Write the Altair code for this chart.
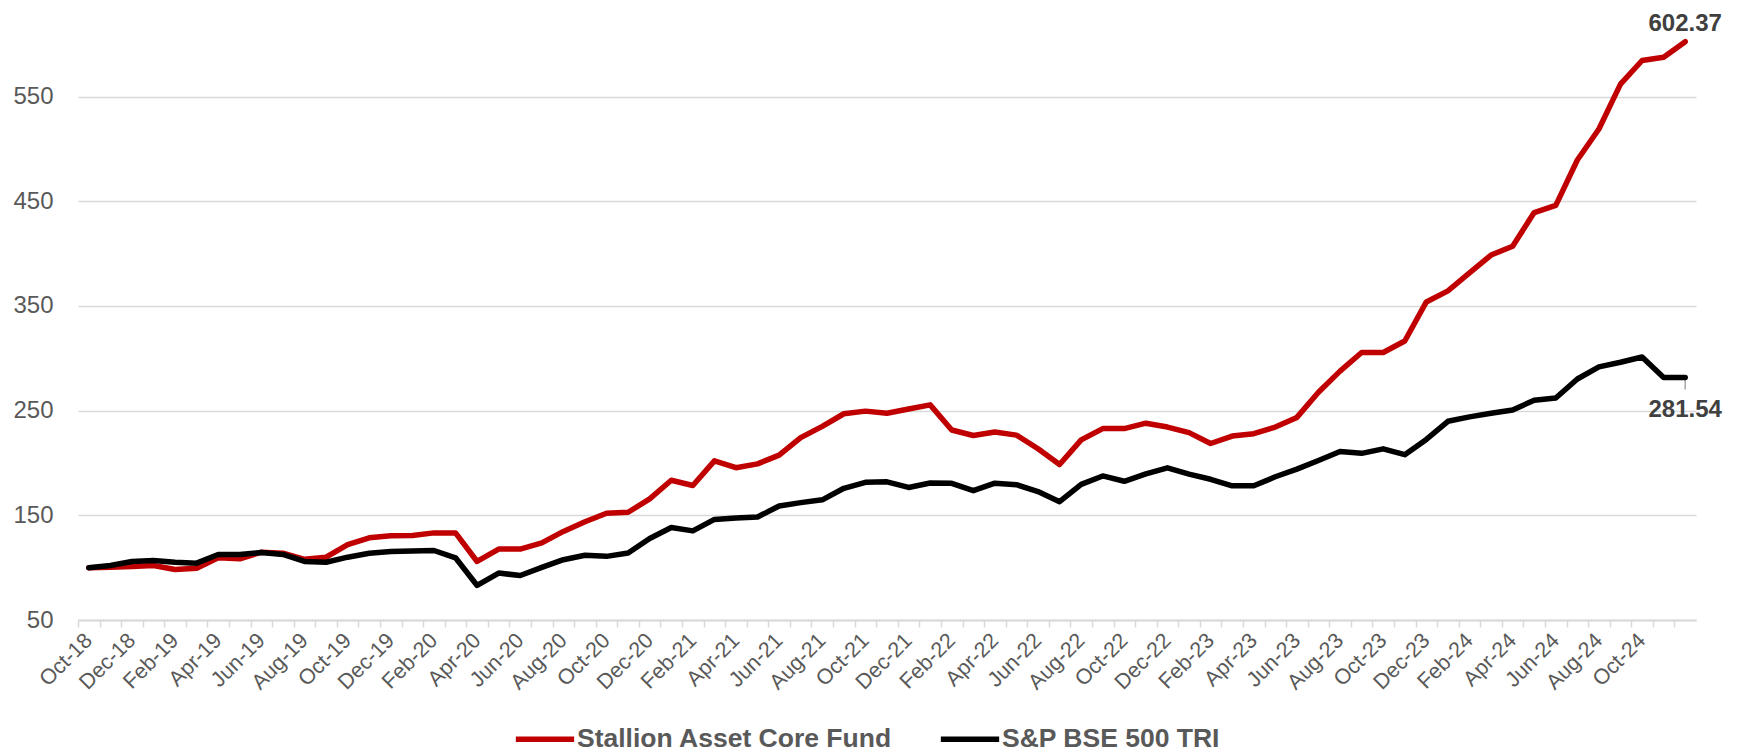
import altair as alt
import pandas as pd

months = [
    "Oct-18", "Nov-18", "Dec-18",
    "Jan-19", "Feb-19", "Mar-19", "Apr-19", "May-19", "Jun-19", "Jul-19", "Aug-19", "Sep-19", "Oct-19", "Nov-19", "Dec-19",
    "Jan-20", "Feb-20", "Mar-20", "Apr-20", "May-20", "Jun-20", "Jul-20", "Aug-20", "Sep-20", "Oct-20", "Nov-20", "Dec-20",
    "Jan-21", "Feb-21", "Mar-21", "Apr-21", "May-21", "Jun-21", "Jul-21", "Aug-21", "Sep-21", "Oct-21", "Nov-21", "Dec-21",
    "Jan-22", "Feb-22", "Mar-22", "Apr-22", "May-22", "Jun-22", "Jul-22", "Aug-22", "Sep-22", "Oct-22", "Nov-22", "Dec-22",
    "Jan-23", "Feb-23", "Mar-23", "Apr-23", "May-23", "Jun-23", "Jul-23", "Aug-23", "Sep-23", "Oct-23", "Nov-23", "Dec-23",
    "Jan-24", "Feb-24", "Mar-24", "Apr-24", "May-24", "Jun-24", "Jul-24", "Aug-24", "Sep-24", "Oct-24", "Nov-24", "Dec-24",
]

fund = [
    100, 100.5, 101.1, 102, 98.3, 99.5, 109.4, 108.4, 114.8, 113.8, 108, 110, 122.1, 128.5, 130.4, 130.7,
    133.2, 133.2, 105.9, 117.7, 117.7, 123.6, 134.6, 143.8, 152, 152.9, 165.7, 183.5, 178.5, 202, 195.5,
    199.1, 207.5, 224.2, 235, 247, 249.5, 247.5, 251.5, 255.5, 231.5, 226.2, 229.6, 226.6, 213.6, 198.5,
    222, 232.8, 232.8, 238, 234.3, 229, 218.6, 225.7, 228, 234.3, 243.5, 267.5, 287.7, 305.5, 305.5,
    316.5, 353.8, 364.4, 381.5, 398.6, 407, 439.2, 446, 489.4, 519, 561.8, 584.4, 587.6, 602.37,
]

index = [
    100, 102.1, 105.9, 106.8, 105.2, 104.3, 112.6, 112.6, 114.5, 112.6, 105.9, 105.2, 110, 113.8, 115.4,
    116, 116.4, 109.4, 83, 94.8, 92.5, 100.3, 107.6, 111.8, 110.8, 114, 127.8, 138.3, 135.1, 146.1,
    147.4, 148.4, 158.9, 162.1, 164.8, 175.8, 181.5, 182, 176.6, 180.8, 180.5, 173.5, 180.7, 179.2,
    172.7, 163, 179.6, 187.6, 182.5, 189.5, 195.4, 189.4, 184.4, 178.2, 178.2, 186.8, 194.1, 202.3,
    210.9, 209.2, 213.5, 207.9, 222.5, 239.8, 244, 247.5, 250.5, 260, 262, 280.2, 291.8, 296.2, 301.2,
    281.54, 281.54,
]

series_names = ["Stallion Asset Core Fund", "S&P BSE 500 TRI"]
series_colors = ["#C00000", "#000000"]
end_labels = ["602.37", "281.54"]
y_ticks = [50, 150, 250, 350, 450, 550]
shown_months = ["Oct", "Dec", "Feb", "Apr", "Jun", "Aug"]

rows = []
for name, vals, lab in zip(series_names, [fund, index], end_labels):
    for i, (m, v) in enumerate(zip(months, vals)):
        rows.append({"month": m, "value": v, "series": name,
                     "label": lab if i == len(months) - 1 else ""})
df = pd.DataFrame(rows)

FONT = "Liberation Sans"
PLOT_W = 1618
HALF_BAND = PLOT_W / len(months) / 2

label_expr = (
    "indexof(" + str(shown_months) + ", slice(datum.value, 0, 3)) >= 0 && datum.value != '"
    + months[-1] + "' ? datum.value : ''"
)

x_enc = alt.X(
    "month:N",
    sort=months,
    scale=alt.Scale(type="band", paddingInner=0, paddingOuter=0),
    axis=alt.Axis(
        title=None,
        orient="bottom",
        labelAngle=-45,
        labelAlign="right",
        labelBaseline="middle",
        labelFontSize=21.5,
        labelColor="#595959",
        labelFont=FONT,
        labelPadding=10,
        labelOverlap=False,
        labelExpr=label_expr,
        tickOffset=-HALF_BAND,
        labelOffset=HALF_BAND,
        domainColor="#d9d9d9",
        domainWidth=2,
        tickColor="#d9d9d9",
        tickWidth=1.5,
        tickSize=7,
        grid=False,
    ),
)

y_enc = alt.Y(
    "value:Q",
    scale=alt.Scale(domain=[50, 633.6], nice=False, zero=False),
    axis=alt.Axis(
        title=None,
        values=y_ticks,
        grid=True,
        gridColor="#d9d9d9",
        gridWidth=1.5,
        domain=False,
        ticks=False,
        labelFontSize=24,
        labelColor="#595959",
        labelFont=FONT,
        labelPadding=25,
    ),
)

base = alt.Chart(df).encode(x=x_enc, y=y_enc)

lines = base.mark_line(strokeWidth=5.5, strokeJoin="round", strokeCap="round").encode(
    color=alt.Color(
        "series:N",
        sort=series_names,
        scale=alt.Scale(domain=series_names, range=series_colors),
        legend=alt.Legend(
            title=None,
            orient="none",
            direction="horizontal",
            legendX=435,
            legendY=698,
            symbolType="stroke",
            symbolSize=3400,
            symbolStrokeWidth=5.5,
            labelFontSize=26.5,
            labelFontWeight="bold",
            labelColor="#595959",
            labelFont=FONT,
            labelOffset=0,
            columnPadding=36,
            padding=0,
            labelLimit=500,
        ),
    ),
)

leader = base.mark_rule(color="#a6a6a6", strokeWidth=1.5, y2Offset=12).encode(
    y2=alt.Y2("value:Q")
).transform_filter(alt.datum.label == end_labels[1])

top_label = base.mark_text(
    fontSize=24, fontWeight="bold", color="#404040", font=FONT, align="center", baseline="alphabetic", dy=-11
).encode(text="label:N").transform_filter(
    alt.datum.label == end_labels[0]
)

bottom_label = base.mark_text(
    fontSize=24, fontWeight="bold", color="#404040", font=FONT, align="center", baseline="alphabetic", dy=39
).encode(text="label:N").transform_filter(
    alt.datum.label == end_labels[1]
)

chart = alt.layer(leader, lines, top_label, bottom_label).properties(
    width=PLOT_W,
    height=611,
    autosize=alt.AutoSizeParams(type="none"),
    padding={"left": 70, "top": 1, "right": 36, "bottom": 140},
).configure(background="white").configure_view(stroke=None)

chart.save("out.html", embed_options={"renderer": "svg", "actions": False})
